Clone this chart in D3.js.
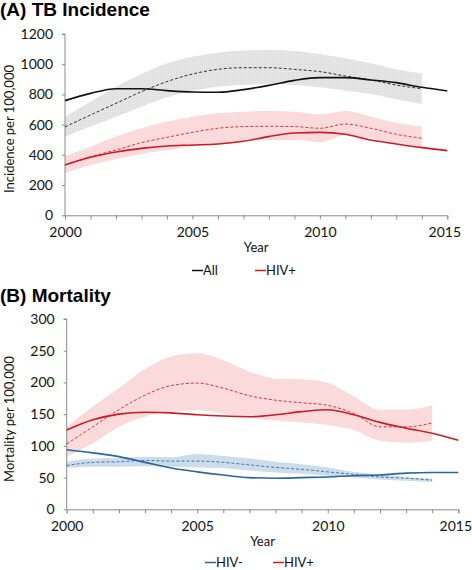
<!DOCTYPE html>
<html><head><meta charset="utf-8">
<script src="https://cdn.jsdelivr.net/npm/d3@7"></script>
<style>body{margin:0;background:#fff}svg{display:block}</style>
</head><body>
<script>
const years = d3.range(2000, 2016);
const bandYears = d3.range(2000, 2015);

// Panel A: TB incidence per 100,000
const incAllSolid = [759,807,838,838,825,816,814,832,860,893,911,911,896,878,847,823];
const incAllDash  = [585,664,741,818,885,935,966,977,977,966,951,922,896,862,838];
const incAllHi    = [653,752,851,935,1006,1050,1076,1090,1094,1088,1068,1039,1006,966,940];
const incAllLo    = [521,587,653,719,781,825,851,862,869,862,847,825,803,768,737];
const incHivSolid = [333,384,419,443,459,465,472,490,521,545,549,536,498,472,448,428];
const incHivDash  = [333,388,432,481,516,549,576,587,589,587,576,604,576,536,510];
const incHivHi    = [393,454,521,576,620,653,675,686,690,686,668,690,653,613,587];
const incHivLo    = [278,333,371,406,432,454,472,488,498,498,484,532,510,476,454];
const incTicks = [0,200,400,600,800,1000,1200];

// Panel B: mortality per 100,000
const morHivSolid = [125,141,150,153,152,149,147,146,149,154,157,149,137,128,120,109];
const morHivDash  = [103,130,157,180,195,199,191,179,172,168,164,151,130,130,136];
const morHivHi    = [130,162,191,221,241,246,235,217,206,205,199,178,157,157,164];
const morHivLo    = [83,104,130,146,154,156,151,145,140,137,133,125,108,105,108];
const morNegSolid = [94,89,83,74,65,59,54,50,49,50,51,53,54,57,58,58];
const morNegDash  = [69,74,75,77,76,76,74,70,66,63,59,55,51,49,46];
const morNegHi    = [75,80,81,83,82,87,84,80,75,71,66,59,55,51,49];
const morNegLo    = [65,67,67,68,67,66,65,61,58,56,53,50,47,45,43];
const morTicks = [0,50,100,150,200,250,300];
const xTicks = [2000,2005,2010,2015];

const W = 472, H = 570;
const svg = d3.select("body").append("svg").attr("width", W).attr("height", H);
const FONT = "Lato, 'Open Sans', sans-serif";

const cBlack = "#111", cRed = "#cc1b24", cBlue = "#2b64a0";
const fGrey = "#e6e6e6", fRed = "#fadadb", fBlue = "#cddcea";

const defs = svg.append("defs");
const pat = defs.append("pattern").attr("id","dots").attr("width",2).attr("height",2).attr("patternUnits","userSpaceOnUse");
pat.append("rect").attr("width",2).attr("height",2).attr("fill",fGrey);
pat.append("rect").attr("width",1).attr("height",1).attr("fill","#dadada");

function panel(cfg) {
  const {top, bottom, left, right, domainMax, ticks, title, titleY, ylabel, ylabelCenter, series, legend, legendY} = cfg;
  const x = d3.scaleLinear().domain([2000, 2015]).range([left, right]);
  const y = d3.scaleLinear().domain([0, domainMax]).range([bottom, top]);
  const g = svg.append("g");

  svg.append("text").attr("x", 0).attr("y", titleY).attr("font-family","Liberation Sans, Arial, sans-serif")
    .attr("font-weight","bold").attr("font-size", 19).attr("fill","#000").text(title);

  // bands
  series.forEach(s => {
    const area = d3.area().x((d,i)=>x(bandYears[i])).y0((d,i)=>y(s.lo[i])).y1(d=>y(d)).curve(d3.curveMonotoneX);
    g.append("path").attr("d", area(s.hi)).attr("fill", s.fill).attr("stroke","none");
  });

  // axes
  const xAxis = d3.axisBottom(x).tickValues(d3.range(2000,2016)).tickSize(4).tickFormat(d => xTicks.includes(d) ? d : "");
  const xg = g.append("g").attr("transform",`translate(0,${bottom})`).call(xAxis);
  xg.select(".domain").attr("stroke","#8a8a8a");
  xg.selectAll(".tick line").attr("stroke","#8a8a8a");
  xg.selectAll(".tick text").attr("font-family",FONT).attr("font-size",14).attr("fill","#111").attr("dy","1.05em")
    .attr("dx", d => d === 2015 ? -3 : 0);

  const yAxis = d3.axisLeft(y).tickValues(ticks).tickSize(3).tickPadding(9).tickFormat(d3.format("d"));
  const yg = g.append("g").attr("transform",`translate(${left},0)`).call(yAxis);
  yg.select(".domain").attr("stroke","#8a8a8a").attr("d", `M-3,${top}H0V${bottom}`);
  yg.selectAll(".tick line").attr("stroke","#8a8a8a");
  yg.selectAll(".tick text").attr("font-family",FONT).attr("font-size",14).attr("fill","#111");

  g.append("text").attr("x",(left+right)/2).attr("y",bottom+37).attr("text-anchor","middle")
    .attr("font-family",FONT).attr("font-size",13).attr("fill","#111").text("Year");

  g.append("text").attr("transform",`translate(14,${ylabelCenter}) rotate(-90)`).attr("text-anchor","middle")
    .attr("font-family",FONT).attr("font-size",13).attr("fill","#111").text(ylabel);

  // lines
  series.forEach(s => {
    const line = d3.line().x((d,i)=>x(years[i])).y(d=>y(d)).curve(d3.curveMonotoneX);
    g.append("path").attr("d", line(s.dash)).attr("fill","none").attr("stroke", s.color)
      .attr("stroke-width",1).attr("stroke-dasharray","3,2").attr("opacity",0.85);
    g.append("path").attr("d", line(s.solid)).attr("fill","none").attr("stroke", s.color).attr("stroke-width",1.6);
  });

  // legend
  legend.forEach(l => {
    g.append("line").attr("x1",l.x).attr("x2",l.x+11).attr("y1",legendY-4.5).attr("y2",legendY-4.5)
      .attr("stroke",l.color).attr("stroke-width",1.5);
    g.append("text").attr("x",l.x+11).attr("y",legendY).attr("font-family",FONT).attr("font-size",13)
      .attr("fill","#111").text(l.label);
  });
}

panel({
  top: 34, bottom: 215.3, left: 65, right: 447.3, domainMax: 1200, ticks: incTicks,
  title: "(A) TB Incidence", titleY: 16, ylabel: "Incidence per 100,000", ylabelCenter: 129,
  series: [
    {solid: incAllSolid, dash: incAllDash, hi: incAllHi, lo: incAllLo, color: cBlack, fill: "url(#dots)"},
    {solid: incHivSolid, dash: incHivDash, hi: incHivHi, lo: incHivLo, color: cRed, fill: fRed}
  ],
  legend: [{x:192, label:"All", color:cBlack},{x:255, label:"HIV+", color:cRed}],
  legendY: 275
});

panel({
  top: 319, bottom: 509.3, left: 66.7, right: 458.3, domainMax: 300, ticks: morTicks,
  title: "(B) Mortality", titleY: 302, ylabel: "Mortality per 100,000", ylabelCenter: 419,
  series: [
    {solid: morHivSolid, dash: morHivDash, hi: morHivHi, lo: morHivLo, color: cRed, fill: fRed},
    {solid: morNegSolid, dash: morNegDash, hi: morNegHi, lo: morNegLo, color: cBlue, fill: fBlue}
  ],
  legend: [{x:205, label:"HIV-", color:cBlue},{x:273, label:"HIV+", color:cRed}],
  legendY: 567
});
</script>
</body></html>
